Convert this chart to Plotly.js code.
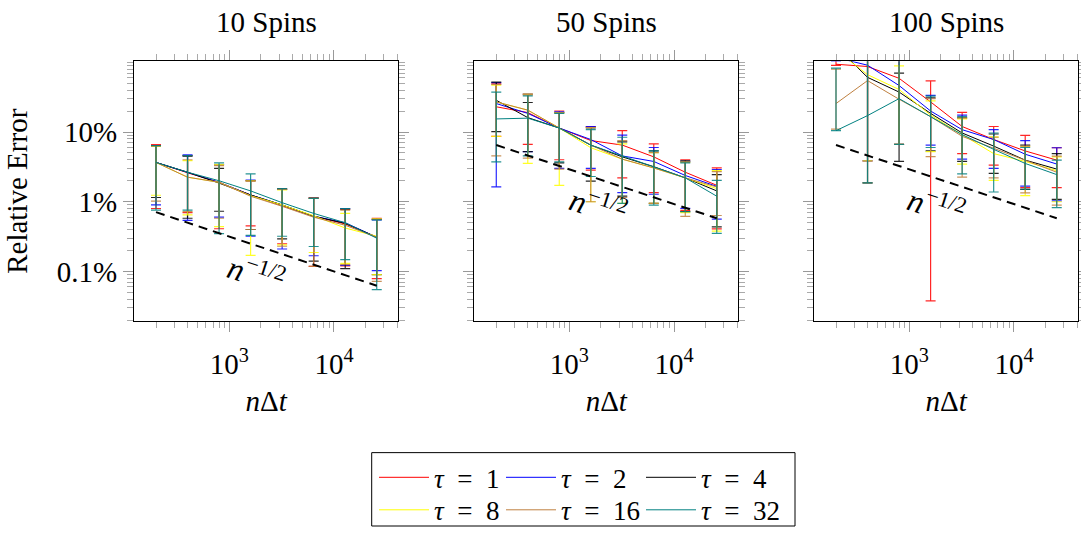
<!DOCTYPE html>
<html>
<head>
<meta charset="utf-8">
<script src="https://cdn.plot.ly/plotly-3.0.1.min.js"></script>
<style>html,body{margin:0;padding:0;background:#fff}#chart{width:1081px;height:535px}</style>
</head>
<body>
<div id="chart"></div>
<script>
// ---- data ----
const nDt = [200, 400, 800, 1600, 3200, 6400, 12800, 25600];
const tauLabels = ['1', '2', '4', '8', '16', '32'];
const tauColors = ['#ff0000', '#0000ff', '#000000', '#ffff00', '#bf8040', '#008080'];
const panelTitles = ['10 Spins', '50 Spins', '100 Spins'];
const xTickVals = [1000, 10000];
const xTickText = ['10<sup>3</sup>', '10<sup>4</sup>'];
const yTickVals = [0.001, 0.01, 0.1];
const yTickText = ['0.1%', '1%', '10%'];

// 10 spins (rows: tau = 1,2,4,8,16,32)
const spin10Mean = [
  [0.0366, 0.0260, 0.0190, 0.0125, 0.0088, 0.0062, 0.0048, 0.0031],
  [0.0366, 0.0262, 0.0190, 0.0125, 0.0090, 0.0062, 0.0050, 0.0031],
  [0.0366, 0.0265, 0.0185, 0.0125, 0.0090, 0.0062, 0.0049, 0.0031],
  [0.0366, 0.0225, 0.0190, 0.0122, 0.0090, 0.0063, 0.0042, 0.0032],
  [0.0366, 0.0225, 0.0190, 0.0120, 0.0086, 0.0060, 0.0046, 0.0031],
  [0.0366, 0.0265, 0.0200, 0.0143, 0.0097, 0.0068, 0.0050, 0.0030]
];
const spin10Upper = [
  [0.066, 0.046, 0.034, 0.020, 0.0154, 0.0115, 0.0078, 0.0058],
  [0.064, 0.047, 0.034, 0.0205, 0.0150, 0.0113, 0.0080, 0.0055],
  [0.063, 0.045, 0.030, 0.020, 0.0150, 0.0112, 0.0078, 0.0056],
  [0.062, 0.039, 0.034, 0.020, 0.0148, 0.0112, 0.0068, 0.0057],
  [0.063, 0.040, 0.033, 0.0198, 0.0150, 0.0112, 0.0076, 0.0056],
  [0.064, 0.046, 0.036, 0.0251, 0.0154, 0.0112, 0.0080, 0.0055]
];
const spin10Lower = [
  [0.0080, 0.0070, 0.0041, 0.0045, 0.0025, 0.00118, 0.0012, 0.00079],
  [0.0090, 0.0054, 0.0060, 0.0032, 0.0021, 0.00168, 0.00122, 0.00103],
  [0.0115, 0.0058, 0.0073, 0.0040, 0.00294, 0.00141, 0.00110, 0.00090],
  [0.0124, 0.0065, 0.0044, 0.0017, 0.0024, 0.00187, 0.00131, 0.00090],
  [0.0102, 0.0072, 0.0058, 0.0040, 0.0023, 0.00118, 0.00125, 0.00072],
  [0.0076, 0.0076, 0.0035, 0.0033, 0.0032, 0.00228, 0.00148, 0.00055]
];
// 50 spins
const spin50Mean = [
  [0.230, 0.190, 0.114, 0.0755, 0.0649, 0.0440, 0.0265, 0.0172],
  [0.256, 0.185, 0.114, 0.0780, 0.0454, 0.0378, 0.0238, 0.0166],
  [0.285, 0.161, 0.114, 0.0649, 0.0440, 0.0318, 0.0220, 0.0143],
  [0.270, 0.206, 0.114, 0.0595, 0.0408, 0.0305, 0.0220, 0.0154],
  [0.270, 0.206, 0.114, 0.0649, 0.0408, 0.0305, 0.0220, 0.0163],
  [0.154, 0.158, 0.114, 0.0649, 0.0454, 0.0318, 0.0220, 0.0120]
];
const spin50Upper = [
  [0.49, 0.35, 0.200, 0.120, 0.1045, 0.0678, 0.040, 0.0305],
  [0.51, 0.35, 0.195, 0.120, 0.090, 0.060, 0.038, 0.029],
  [0.52, 0.265, 0.190, 0.115, 0.0723, 0.0535, 0.0386, 0.0245],
  [0.47, 0.35, 0.190, 0.116, 0.0678, 0.0506, 0.037, 0.028],
  [0.48, 0.34, 0.190, 0.116, 0.075, 0.0506, 0.037, 0.027],
  [0.374, 0.33, 0.185, 0.108, 0.0841, 0.0535, 0.036, 0.0202]
];
const spin50Lower = [
  [0.0868, 0.0664, 0.040, 0.0285, 0.0220, 0.0135, 0.0075, 0.00407],
  [0.0163, 0.0523, 0.0301, 0.0301, 0.0135, 0.0128, 0.00805, 0.00564],
  [0.101, 0.0523, 0.036, 0.0198, 0.0120, 0.0095, 0.00723, 0.00435],
  [0.0868, 0.0354, 0.0172, 0.0100, 0.0095, 0.0095, 0.0070, 0.00378],
  [0.0454, 0.0421, 0.0294, 0.0100, 0.0115, 0.0095, 0.00615, 0.00635],
  [0.0374, 0.0454, 0.0374, 0.0230, 0.0095, 0.00897, 0.00723, 0.00351]
];
// 100 spins
const spin100Mean = [
  [0.937, 0.869, 0.589, 0.270, 0.120, 0.078, 0.0535, 0.0395],
  [1.17, 0.908, 0.464, 0.200, 0.108, 0.078, 0.0480, 0.0347],
  [1.70, 0.608, 0.374, 0.185, 0.0968, 0.0628, 0.0395, 0.0294],
  [1.50, 0.664, 0.407, 0.175, 0.0917, 0.0490, 0.0378, 0.0279],
  [0.256, 0.546, 0.295, 0.166, 0.0868, 0.0582, 0.0395, 0.0265],
  [0.1045, 0.172, 0.301, 0.166, 0.0917, 0.0564, 0.0354, 0.0245]
];
const spin100Upper = [
  [1.6, 1.4, 1.1, 0.540, 0.191, 0.120, 0.0897, 0.0595],
  [2.0, 1.5, 1.1, 0.336, 0.175, 0.108, 0.075, 0.0595],
  [2.5, 1.3, 0.70, 0.308, 0.160, 0.0937, 0.065, 0.0490],
  [2.2, 1.3, 0.888, 0.279, 0.154, 0.085, 0.062, 0.0440],
  [0.8, 1.2, 1.1, 0.300, 0.160, 0.0841, 0.0628, 0.045],
  [0.823, 1.1, 1.1, 0.328, 0.166, 0.0968, 0.060, 0.0395]
];
const spin100Lower = [
  [0.90, 0.0386, 0.0664, 0.000378, 0.0490, 0.0336, 0.0159, 0.0159],
  [1.05, 0.0386, 0.0664, 0.0649, 0.0408, 0.030, 0.0168, 0.0103],
  [1.10, 0.0187, 0.0378, 0.0535, 0.0378, 0.0256, 0.0150, 0.0108],
  [1.10, 0.0386, 0.0664, 0.0523, 0.0347, 0.0202, 0.0122, 0.0100],
  [0.11, 0.0187, 0.0664, 0.0445, 0.0225, 0.0220, 0.0134, 0.00897],
  [0.1045, 0.0187, 0.0664, 0.060, 0.0251, 0.0138, 0.0151, 0.00822]
];
// n^{-1/2} reference line end points, per panel
const refX = [200, 25600];
const refY10 = [0.0071, 0.000625];
const refY50 = [0.065, 0.0058];
const refY100 = [0.065, 0.0058];
// ---- end data ----

const FONT = '"Liberation Serif", "Times New Roman", serif';
const panels = [
  {mean: spin10Mean, up: spin10Upper, lo: spin10Lower, ref: refY10},
  {mean: spin50Mean, up: spin50Upper, lo: spin50Lower, ref: refY50},
  {mean: spin100Mean, up: spin100Upper, lo: spin100Lower, ref: refY100}
];
function rgba(hex, a) {
  const r = parseInt(hex.slice(1, 3), 16), g = parseInt(hex.slice(3, 5), 16), b = parseInt(hex.slice(5, 7), 16);
  return `rgba(${r},${g},${b},${a})`;
}
const legendIds = ['legend', 'legend2', 'legend3', 'legend4', 'legend5', 'legend6'];
const traces = [];
panels.forEach((p, pi) => {
  const xa = pi === 0 ? 'x' : 'x' + (pi + 1);
  const ya = pi === 0 ? 'y' : 'y' + (pi + 1);
  p.mean.forEach((m, si) => {
    traces.push({
      type: 'scatter', mode: 'lines', x: nDt, y: m, xaxis: xa, yaxis: ya,
      name: '<i>τ</i>\u2002=\u2002' + tauLabels[si],
      line: {color: tauColors[si], width: 1},
      error_y: {
        type: 'data', symmetric: false,
        array: m.map((v, k) => p.up[si][k] - v),
        arrayminus: m.map((v, k) => v - p.lo[si][k]),
        color: rgba(tauColors[si], 0.85), thickness: 1.2, width: 5
      },
      showlegend: pi === 0,
      legend: legendIds[si],
      hoverinfo: 'skip'
    });
  });
  traces.push({
    type: 'scatter', mode: 'lines', x: refX, y: p.ref, xaxis: xa, yaxis: ya,
    line: {color: '#000', width: 2, dash: '9px,6px'}, showlegend: false, hoverinfo: 'skip'
  });
});

const xMinor = [];
[100, 1000, 10000].forEach(d => { for (let k = 2; k <= 9; k++) xMinor.push(k * d); });
const yMinor = [1];
[1e-4, 1e-3, 1e-2, 1e-1].forEach(d => { for (let k = 2; k <= 9; k++) yMinor.push(k * d); });

const W = 1081, H = 535;
const xDomains = [[134 / W, 398.3 / W], [474.3 / W, 738.3 / W], [814 / W, 1078.3 / W]];
const yDomain = [1 - 326 / H, 1 - 62.3 / H];

const layout = {
  width: W, height: H,
  margin: {l: 0, r: 0, t: 0, b: 0},
  paper_bgcolor: '#fff', plot_bgcolor: '#fff',
  font: {family: FONT, size: 29, color: '#000'},
  annotations: [],
  shapes: [{type: 'rect', xref: 'paper', yref: 'paper', x0: 371.7 / W, x1: 795 / W, y0: 1 - 534 / H, y1: 1 - 459.5 / H,
            line: {color: '#000', width: 1}, fillcolor: 'rgba(0,0,0,0)'}]
};
const annPos = [[1833, 0.00096], [1888, 0.0090], [1833, 0.0090]];
for (let i = 0; i < 3; i++) {
  const sfx = i === 0 ? '' : String(i + 1);
  layout['xaxis' + sfx] = {
    type: 'log', domain: xDomains[i], range: [2.091, 4.614], anchor: 'y' + sfx,
    tickmode: 'array', tickvals: xTickVals, ticktext: xTickText,
    ticks: 'outside', ticklen: 10, tickcolor: '#999', tickwidth: 1, ticklabelstandoff: 7,
    minor: {tickmode: 'array', tickvals: xMinor, ticks: 'outside', ticklen: 6, tickcolor: '#aaa', showgrid: false},
    showline: true, linecolor: '#000', linewidth: 1, mirror: 'allticks',
    showgrid: false, zeroline: false,
    tickfont: {family: FONT, size: 29},
    title: {text: '<i>n</i>Δ<i>t</i>', font: {family: FONT, size: 29}, standoff: 11}
  };
  layout['yaxis' + sfx] = {
    type: 'log', domain: yDomain, range: [-3.712, 0.013], anchor: 'x' + sfx,
    tickmode: 'array', tickvals: yTickVals, ticktext: yTickText,
    showticklabels: i === 0,
    ticks: 'outside', ticklen: 10, tickcolor: '#999', tickwidth: 1,
    minor: {tickmode: 'array', tickvals: yMinor, ticks: 'outside', ticklen: 6, tickcolor: '#aaa', showgrid: false},
    showline: true, linecolor: '#000', linewidth: 1, mirror: 'allticks',
    showgrid: false, zeroline: false,
    tickfont: {family: FONT, size: 29},
    title: i === 0 ? {text: 'Relative Error', font: {family: FONT, size: 29}, standoff: 20} : {text: ''}
  };
  layout.annotations.push({
    xref: 'paper', yref: 'paper', x: (xDomains[i][0] + xDomains[i][1]) / 2, y: 1 - 22 / H,
    text: panelTitles[i], showarrow: false, xanchor: 'center', yanchor: 'middle',
    font: {family: FONT, size: 29}
  });
  layout.annotations.push({
    xref: 'x' + sfx, yref: 'y' + sfx, x: Math.log10(annPos[i][0]), y: Math.log10(annPos[i][1]),
    text: '<i>n</i><sup>−1/2</sup>', showarrow: false, textangle: 18,
    font: {family: FONT, size: 32}
  });
}
const legBase = {orientation: 'v', xanchor: 'left', yanchor: 'middle',
  bgcolor: 'rgba(0,0,0,0)', borderwidth: 0, font: {family: FONT, size: 27},
  itemwidth: 50, tracegroupgap: 0, itemclick: false, itemdoubleclick: false};
const legX = [374, 501, 641];
const legY = [485, 518];
legendIds.forEach((id, si) => {
  layout[id] = Object.assign({}, legBase, {x: legX[si % 3] / W, y: 1 - legY[Math.floor(si / 3)] / H});
});

Plotly.newPlot('chart', traces, layout, {staticPlot: true});
</script>
</body>
</html>
